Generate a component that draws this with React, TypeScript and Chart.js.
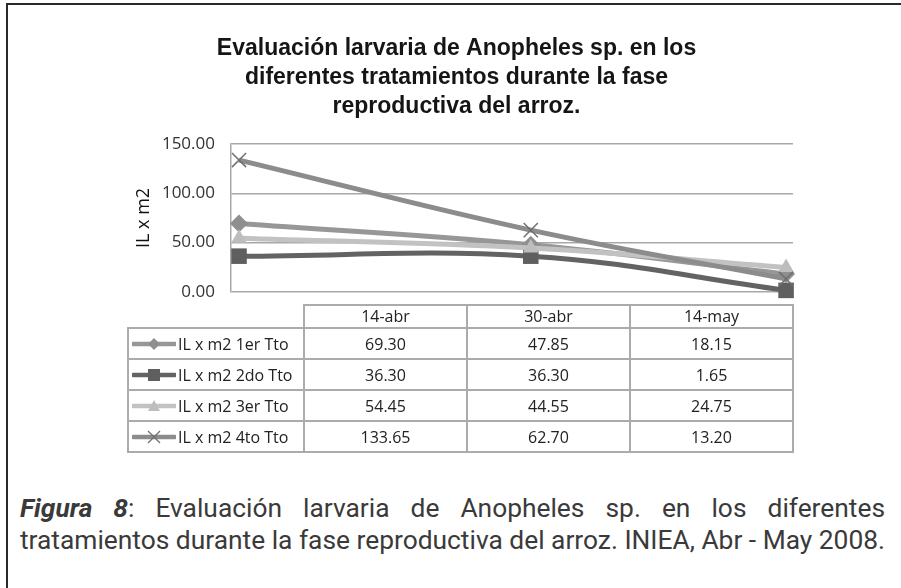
import React, { useEffect, useLayoutEffect, useRef, useState } from "react";
import { Chart, registerables } from "chart.js";

Chart.register(...registerables);

// ---------- data ----------
const categories = ["14-abr", "30-abr", "14-may"];
const dayOffsets = [0, 16, 30]; // days since 14-abr (date axis)
const seriesNames = ["IL x m2 1er Tto", "IL x m2 2do Tto", "IL x m2 3er Tto", "IL x m2 4to Tto"];
const tto1 = [69.3, 47.85, 18.15];
const tto2 = [36.3, 36.3, 1.65];
const tto3 = [54.45, 44.55, 24.75];
const tto4 = [133.65, 62.7, 13.2];
const yTicks = [0, 50, 100, 150];
const titleLines = [
  "Evaluación larvaria de Anopheles sp. en los",
  "diferentes tratamientos durante la fase",
  "reproductiva del arroz.",
];
const yAxisTitle = "IL x m2";
const captionBold = "Figura 8";
const captionLine1 = ": Evaluación larvaria de Anopheles sp. en los diferentes";
const captionLine2 = "tratamientos durante la fase reproductiva del arroz. INIEA, Abr - May 2008.";

// ---------- styles ----------
const seriesValues = [tto1, tto2, tto3, tto4];
const lineColors = ["#979797", "#636363", "#c2c2c2", "#8c8c8c"];
const markerColors = ["#8f8f8f", "#5f5f5f", "#bdbdbd", "#6f6f6f"];
const pointStyles = ["rectRot", "rect", "triangle", "crossRot"] as const;
const pointRadii = [9, 11, 9, 10];
const gridColor = "#a8a8a8";
const tableBorder = "2px solid #ababab";
const captionWidth = 865;

function LegendIcon({ idx }: { idx: number }) {
  const c = lineColors[idx];
  const m = markerColors[idx];
  const cx = 22;
  const cy = 8;
  let marker: React.ReactNode = null;
  if (idx === 0) marker = <polygon points={`${cx},${cy - 6} ${cx + 6},${cy} ${cx},${cy + 6} ${cx - 6},${cy}`} fill={m} />;
  if (idx === 1) marker = <rect x={cx - 6} y={cy - 6} width={12} height={12} fill={m} />;
  if (idx === 2) marker = <polygon points={`${cx},${cy - 6} ${cx + 6},${cy + 5} ${cx - 6},${cy + 5}`} fill={m} />;
  if (idx === 3)
    marker = (
      <g stroke={m} strokeWidth={1.3}>
        <line x1={cx - 6} y1={cy - 6} x2={cx + 6} y2={cy + 6} />
        <line x1={cx - 6} y1={cy + 6} x2={cx + 6} y2={cy - 6} />
      </g>
    );
  return (
    <svg width={44} height={16} style={{ display: "block" }}>
      <line x1={1} y1={cy} x2={43} y2={cy} stroke={c} strokeWidth={4.5} strokeLinecap="round" />
      {marker}
    </svg>
  );
}

export default function App() {
  const canvasRef = useRef<HTMLCanvasElement | null>(null);
  const line2Ref = useRef<HTMLSpanElement | null>(null);
  const [capScale, setCapScale] = useState(1);

  useLayoutEffect(() => {
    if (line2Ref.current) {
      const w = line2Ref.current.getBoundingClientRect().width;
      if (w > 0) setCapScale(captionWidth / w);
    }
  }, []);

  useEffect(() => {
    if (!canvasRef.current) return;
    const chart = new Chart(canvasRef.current, {
      type: "line",
      data: {
        datasets: seriesValues.map((vals, i) => ({
          label: seriesNames[i],
          data: vals.map((v, j) => ({ x: dayOffsets[j], y: v })),
          borderColor: lineColors[i],
          backgroundColor: markerColors[i],
          borderWidth: 5,
          tension: 0.4,
          pointStyle: pointStyles[i],
          pointRadius: pointRadii[i],
          pointBackgroundColor: markerColors[i],
          pointBorderColor: markerColors[i],
          pointBorderWidth: i === 3 ? 1.5 : 0,
          order: seriesValues.length - i,
          clip: false,
        })) as any,
      },
      options: {
        animation: false,
        responsive: false,
        maintainAspectRatio: false,
        layout: { padding: { left: 120, right: 108, top: 0, bottom: 28 } },
        plugins: {
          legend: { display: false },
          tooltip: { enabled: false },
          title: {
            display: true,
            text: titleLines,
            color: "#151515",
            font: { family: '"Liberation Sans", Arial, sans-serif', size: 23, weight: "bold", lineHeight: 1.26 },
            padding: { top: 34, bottom: 23 },
          },
        },
        scales: {
          x: { type: "linear", display: false, min: -0.44, max: 30.38 },
          y: {
            min: 0,
            max: 150,
            afterBuildTicks: (s: any) => {
              s.ticks = yTicks.map((v) => ({ value: v }));
            },
            afterFit: (s: any) => {
              s.width = 111;
            },
            ticks: {
              callback: (v: any) => Number(v).toFixed(2),
              color: "#333",
              font: { family: '"Open Sans", sans-serif', size: 17 },
              padding: 16,
            },
            grid: { color: gridColor, lineWidth: 1.5, drawTicks: false },
            border: { display: true, color: gridColor, width: 1.5 },
            title: {
              display: true,
              text: yAxisTitle,
              color: "#111",
              font: { family: '"Open Sans", sans-serif', size: 18 },
              padding: { top: 13, bottom: 0 },
            },
          },
        },
      },
    });
    return () => chart.destroy();
  }, []);

  const cell: React.CSSProperties = { border: tableBorder, textAlign: "center", padding: 0 };

  return (
    <div
      style={{
        position: "absolute",
        left: 0,
        top: 0,
        width: 901,
        height: 588,
        background: "#fff",
        overflow: "hidden",
      }}
    >
      <div
        style={{
          position: "absolute",
          left: 6,
          top: 3,
          width: 910,
          height: 600,
          borderTop: "2px solid #2a2a2a",
          borderLeft: "2px solid #2a2a2a",
        }}
      />
      <canvas
        ref={canvasRef}
        width={901}
        height={320}
        style={{ position: "absolute", left: 0, top: 0, width: 901, height: 320 }}
      />
      <table
        style={{
          position: "absolute",
          left: 127,
          top: 304,
          width: 667,
          borderCollapse: "collapse",
          tableLayout: "fixed",
          fontFamily: '"Open Sans", sans-serif',
          fontSize: 16,
          color: "#222",
        }}
      >
        <colgroup>
          <col style={{ width: 176 }} />
          <col />
          <col />
          <col />
        </colgroup>
        <thead>
          <tr style={{ height: 23 }}>
            <th style={{ border: "none", padding: 0 }} />
            {categories.map((c) => (
              <th key={c} style={{ ...cell, fontWeight: "normal", lineHeight: "19px" }}>
                {c}
              </th>
            ))}
          </tr>
        </thead>
        <tbody>
          {seriesValues.map((vals, i) => (
            <tr key={i} style={{ height: 31 }}>
              <td style={{ ...cell, textAlign: "left" }}>
                <div style={{ display: "flex", alignItems: "center", paddingLeft: 3 }}>
                  <LegendIcon idx={i} />
                  <span style={{ marginLeft: 2 }}>{seriesNames[i]}</span>
                </div>
              </td>
              {vals.map((v, j) => (
                <td key={j} style={cell}>
                  {v.toFixed(2)}
                </td>
              ))}
            </tr>
          ))}
        </tbody>
      </table>
      <div
        style={{
          position: "absolute",
          left: 20,
          top: 492,
          width: captionWidth / capScale,
          transform: `scaleX(${capScale})`,
          transformOrigin: "0 0",
          fontFamily: "Roboto, sans-serif",
          fontSize: 26,
          lineHeight: "32px",
          color: "#3a3a3a",
        }}
      >
        <div style={{ textAlign: "justify", textAlignLast: "justify", whiteSpace: "nowrap" }}>
          <b>
            <i>{captionBold}</i>
          </b>
          {captionLine1}
        </div>
        <div style={{ whiteSpace: "nowrap" }}>
          <span ref={line2Ref}>{captionLine2}</span>
        </div>
      </div>
    </div>
  );
}
